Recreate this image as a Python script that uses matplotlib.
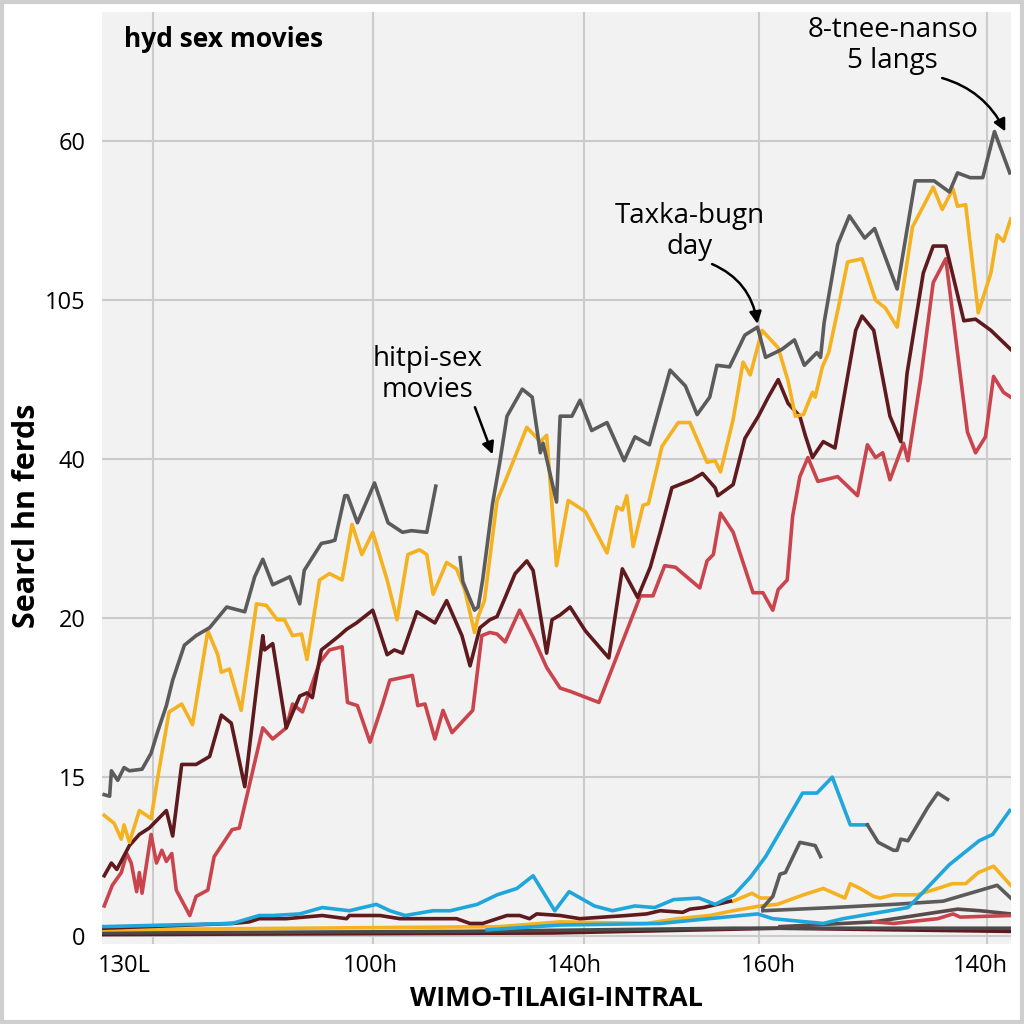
import matplotlib.pyplot as plt
from matplotlib.patches import Rectangle

plt.rcParams['font.family'] = ['Open Sans', 'DejaVu Sans']

# y values in grid units (10 per gridline), x in hours-ish index 0..100
gray_x = [0.2, 0.8, 1.0, 1.7, 2.4, 3.0, 4.4, 5.4, 6.1, 7.1, 7.8, 9.1, 10.4, 11.9, 13.8, 15.8, 16.9, 17.8,
          18.9, 20.8, 21.9, 22.4, 24.3, 25.2, 25.8, 26.9, 27.2, 28.3, 30.2, 31.7, 33.3, 34.3, 36.0, 37.0]
gray_y = [8.9, 8.8, 10.4, 9.8, 10.6, 10.4, 10.5, 11.5, 12.8, 14.5, 16.1, 18.3, 18.9, 19.4, 20.7, 20.4, 22.6, 23.7,
          22.1, 22.6, 20.9, 23.0, 24.7, 24.8, 24.9, 27.7, 27.7, 26.0, 28.5, 26.0, 25.4, 25.5, 25.4, 28.3]

gray2_x = [39.7, 40.0, 41.3, 41.7, 42.2, 43.3, 44.1, 44.9, 46.6, 47.7, 48.6, 48.9, 50.4, 50.8, 52.1, 53.0, 54.3,
           56.0, 57.9, 59.1, 60.7, 63.0, 64.7, 66.0, 67.4, 68.2, 69.6, 71.3, 72.7, 73.6, 75.4, 76.8, 77.9, 79.3,
           79.7, 80.1, 81.6, 82.9, 84.6, 85.7, 88.2, 90.2, 92.3, 94.0, 94.9, 96.3, 97.7, 99.0, 100.7]
gray2_y = [23.8, 22.3, 20.5, 20.7, 22.4, 27.2, 29.8, 32.7, 34.4, 33.9, 30.4, 31.0, 27.3, 32.7, 32.7, 33.7, 31.8,
           32.3, 29.9, 31.4, 30.9, 35.6, 34.6, 32.8, 33.9, 35.9, 35.8, 37.8, 38.3, 36.4, 36.9, 37.5, 35.9, 36.7,
           36.4, 38.6, 43.5, 45.3, 43.9, 44.5, 40.7, 47.5, 47.5, 46.8, 48.0, 47.7, 47.7, 50.6, 48.0]

yellow_x = [0.2, 1.3, 2.1, 2.4, 3.0, 4.1, 5.4, 6.3, 7.4, 8.8, 10.0, 11.7, 12.8, 13.2, 14.1, 15.4, 17.1, 18.2,
            19.4, 20.2, 21.1, 22.1, 22.7, 24.1, 25.2, 26.6, 27.7, 28.8, 30.0, 31.6, 32.7, 33.9, 35.2, 36.0,
            36.7, 38.2, 39.3, 40.2, 41.3, 41.7, 42.4, 43.8, 44.7, 47.1, 48.6, 49.3, 50.4, 51.7, 53.6, 56.0,
            57.1, 57.7, 58.2, 58.9, 60.0, 60.6, 62.1, 63.9, 65.2, 67.1, 68.0, 68.6, 70.0, 71.1, 71.9, 73.2,
            75.0, 76.1, 76.9, 77.8, 78.8, 79.1, 79.9, 80.6, 81.7, 82.7, 84.3, 85.8, 86.9, 88.2, 89.9, 91.1,
            92.2, 93.2, 94.4, 94.9, 95.8, 97.2, 98.6, 99.3, 100.0, 100.8]
yellow_y = [7.6, 7.1, 6.1, 7.0, 5.9, 7.9, 7.4, 10.5, 14.1, 14.6, 13.3, 19.2, 17.7, 16.6, 16.8, 14.2, 20.9, 20.8,
            19.9, 19.9, 18.9, 19.0, 17.4, 22.4, 22.8, 22.4, 25.9, 24.0, 25.4, 22.4, 19.9, 24.0, 24.3, 24.0,
            21.5, 23.5, 23.1, 21.8, 19.1, 20.1, 21.1, 27.4, 28.6, 32.0, 31.1, 31.5, 23.3, 27.4, 26.7, 24.1,
            27.0, 26.8, 27.7, 24.5, 27.1, 27.2, 30.8, 32.3, 32.3, 29.8, 29.9, 29.2, 32.5, 36.1, 35.3, 38.1,
            37.0, 34.9, 32.7, 32.8, 34.2, 33.9, 35.8, 36.7, 39.6, 42.4, 42.6, 40.0, 39.5, 38.3, 44.6, 45.9,
            47.1, 45.7, 47.0, 45.9, 46.0, 39.2, 41.7, 44.1, 43.7, 45.1]

maroon_x = [0.2, 1.0, 1.6, 3.0, 4.1, 5.2, 7.1, 7.8, 8.8, 10.4, 11.9, 13.2, 14.3, 15.8, 17.8, 18.0, 18.9, 20.4,
            21.9, 22.7, 23.3, 24.3, 25.2, 26.3, 27.1, 28.2, 30.0, 31.6, 32.4, 33.3, 34.9, 36.9, 38.2, 39.9,
            40.8, 41.9, 43.0, 43.8, 44.7, 45.8, 47.1, 47.8, 49.3, 49.9, 50.8, 51.9, 53.6, 56.2, 57.7, 59.4,
            60.8, 61.9, 63.2, 65.4, 66.6, 68.0, 68.3, 70.0, 71.3, 72.8, 73.9, 75.0, 76.1, 77.4, 78.0, 78.8,
            80.0, 81.3, 83.6, 84.3, 85.6, 87.4, 88.6, 89.3, 91.1, 92.2, 93.6, 95.6, 96.9, 98.6, 100.8]
maroon_y = [3.8, 4.6, 4.2, 5.7, 6.4, 6.8, 7.9, 6.3, 10.8, 10.8, 11.3, 13.9, 13.4, 9.4, 18.9, 18.0, 18.4, 13.1,
            15.1, 15.3, 15.0, 18.0, 18.4, 18.9, 19.3, 19.7, 20.5, 17.7, 18.0, 17.8, 20.4, 19.7, 21.1, 18.9,
            17.0, 19.4, 19.9, 20.1, 21.3, 22.8, 23.6, 23.0, 17.8, 19.9, 20.2, 20.7, 19.2, 17.5, 23.1, 21.3,
            23.2, 25.4, 28.2, 28.7, 29.1, 28.2, 27.7, 28.4, 31.3, 32.7, 33.9, 35.0, 33.5, 32.7, 31.5, 30.1,
            31.1, 30.7, 38.1, 39.0, 38.1, 32.7, 31.1, 35.4, 41.7, 43.4, 43.4, 38.7, 38.8, 38.1, 36.9]

red_x = [0.2, 1.1, 2.1, 2.7, 3.2, 3.8, 4.1, 4.4, 5.4, 6.0, 6.6, 7.1, 7.7, 8.2, 9.7, 10.4, 11.7, 12.4, 14.4,
         15.2, 17.8, 18.9, 20.4, 21.1, 22.2, 24.1, 25.2, 26.6, 27.2, 28.3, 29.7, 31.1, 31.9, 34.4, 35.0, 35.8,
         36.9, 37.8, 38.8, 41.1, 42.1, 43.0, 43.8, 44.7, 46.3, 47.8, 49.3, 50.8, 51.9, 55.1, 56.2, 59.7, 61.1,
         62.4, 63.6, 66.3, 67.1, 67.8, 68.6, 70.0, 72.2, 73.3, 74.4, 75.0, 76.0, 76.6, 77.4, 78.3, 79.4, 81.6,
         83.8, 84.9, 85.8, 86.6, 87.4, 88.9, 89.4, 90.8, 92.2, 93.6, 96.0, 96.9, 98.0, 98.9, 100.0, 100.8]
red_y = [1.9, 3.2, 4.0, 5.2, 4.6, 2.8, 4.0, 2.7, 6.4, 4.6, 5.4, 4.7, 5.2, 2.9, 1.3, 2.5, 2.9, 5.0, 6.7,
         6.8, 13.1, 12.4, 13.1, 14.6, 14.1, 17.2, 18.0, 18.2, 14.7, 14.5, 12.2, 14.6, 16.1, 16.4, 14.5, 14.6,
         12.4, 14.2, 12.8, 14.2, 18.9, 19.1, 19.0, 18.5, 20.5, 18.8, 16.9, 15.6, 15.4, 14.7, 16.3, 21.4, 21.4,
         23.3, 23.2, 21.9, 23.6, 24.0, 26.6, 25.4, 21.6, 21.6, 20.5, 21.8, 22.4, 26.4, 28.9, 30.1, 28.6, 28.9,
         27.7, 30.9, 30.1, 30.4, 28.7, 31.0, 29.9, 35.0, 41.1, 42.6, 31.7, 30.4, 31.4, 35.2, 34.2, 33.9]

blue_x = [0.0, 14.4, 17.4, 18.9, 21.9, 24.4, 27.4, 28.9, 30.4, 31.9, 33.6, 36.7, 38.6, 41.6, 43.8, 46.0, 47.8,
          50.2, 51.8, 54.6, 56.6, 59.1, 61.3, 63.4, 66.2, 68.0, 70.1, 71.9, 73.6, 77.7, 79.3, 81.0, 83.0, 84.9]
blue_y = [0.6, 0.8, 1.3, 1.3, 1.4, 1.8, 1.6, 1.8, 2.0, 1.6, 1.3, 1.6, 1.6, 2.0, 2.6, 3.0, 3.8,
          1.6, 2.8, 1.9, 1.6, 1.9, 1.8, 2.3, 2.4, 2.0, 2.6, 3.7, 5.0, 9.0, 9.0, 10.0, 7.0, 7.0]

gray3_x = [84.9, 86.1, 87.8, 88.2, 88.6, 89.4, 91.6, 92.7, 93.8]
gray3_y = [7.0, 5.9, 5.4, 5.4, 6.1, 6.0, 8.1, 9.0, 8.6]

blue2_x = [42.7, 50.8, 61.9, 72.7, 74.4, 80.0, 82.2, 89.4, 90.8, 94.0, 97.3, 98.8, 100.7]
blue2_y = [0.4, 0.7, 0.8, 1.4, 1.1, 0.8, 1.1, 1.8, 2.6, 4.5, 6.0, 6.4, 7.9]

maroon_low_x = [0.0, 14.4, 16.3, 17.4, 20.4, 24.4, 27.1, 27.4, 30.8, 33.0, 36.7, 39.3, 40.8, 42.2, 44.9,
                46.3, 47.4, 48.2, 50.8, 53.0, 58.2, 60.4, 61.9, 64.4, 65.2, 66.7, 68.2, 69.7]
maroon_low_y = [0.5, 0.8, 0.9, 1.1, 1.1, 1.3, 1.1, 1.3, 1.3, 1.1, 1.1, 1.1, 0.8, 0.8, 1.3,
                1.3, 1.1, 1.4, 1.3, 1.1, 1.3, 1.4, 1.6, 1.5, 1.7, 1.8, 2.0, 2.2]

yellow_low_x = [0.0, 21.9, 44.1, 50.8, 60.4, 63.8, 67.4, 70.0, 73.0, 74.9, 77.8, 80.0, 82.4, 83.0, 84.1,
                85.6, 86.3, 87.8, 90.4, 92.7, 94.3, 95.8, 97.2, 98.9, 100.8]
yellow_low_y = [0.4, 0.5, 0.6, 0.9, 0.8, 1.1, 1.3, 1.6, 1.9, 2.0, 2.6, 3.0, 2.4, 3.3, 3.0,
                2.5, 2.4, 2.6, 2.6, 3.0, 3.3, 3.3, 4.0, 4.4, 3.2]
yellow_bit_x = [70.0, 72.1, 73.0, 74.1]
yellow_bit_y = [2.2, 2.7, 2.4, 2.4]

gray_rise_x = [73.3, 74.4, 75.2, 75.8, 77.4, 79.1, 79.7]
gray_rise_y = [1.8, 2.5, 3.9, 4.0, 5.9, 5.7, 5.0]

gray_low_x = [73.3, 81.1, 87.8, 93.3, 99.3, 100.8]
gray_low_y = [1.6, 1.8, 2.0, 2.2, 3.2, 2.4]

gray_low2_x = [75.2, 85.6, 94.9, 97.4, 100.8]
gray_low2_y = [0.6, 0.9, 1.7, 1.6, 1.4]

red_low_x = [85.6, 87.8, 92.7, 94.4, 95.2, 100.8]
red_low_y = [0.9, 0.8, 1.1, 1.4, 1.2, 1.3]

bottom_gray_x = [0.0, 40.0, 70.0, 90.0, 100.8]
bottom_gray_y = [0.2, 0.3, 0.5, 0.5, 0.5]
bottom_maroon_x = [0.0, 50.0, 75.0, 100.8]
bottom_maroon_y = [0.1, 0.2, 0.5, 0.3]

ytick_pos = [0, 10, 20, 30, 40, 50]
ytick_lab = ['0', '15', '20', '40', '105', '60']
xgrid_pos = [5.6, 30.0, 53.4, 72.9, 98.2]
xtick_pos = [2.4, 29.7, 52.4, 73.9, 97.4]
xtick_lab = ['130L', '100h', '140h', '160h', '140h']

GRAY = '#5b5b5b'
YEL = '#f4b120'
MAR = '#5e1a1d'
RED = '#c9444c'
BLUE = '#1fa6db'

fig = plt.figure(figsize=(10.24, 10.24), dpi=100)
fig.patches.append(Rectangle((0.002, 0.002), 0.996, 0.996, transform=fig.transFigure,
                             fill=False, edgecolor='#cfcfcf', linewidth=3))
ax = fig.add_axes([0.1, 0.078, 0.887, 0.91])
ax.set_facecolor('#f2f2f3')
for s in ax.spines.values():
    s.set_visible(False)

ax.set_xlim(0, 100.8)
ax.set_ylim(-0.5, 58.1)

for y in ytick_pos:
    ax.axhline(y, color='#cbcbcb', lw=1.5, zorder=1)
for x in xgrid_pos:
    ax.axvline(x, color='#cbcbcb', lw=1.5, zorder=1)

lw = 2.6
ax.plot(bottom_maroon_x, bottom_maroon_y, color=MAR, lw=lw, zorder=2)
ax.plot(bottom_gray_x, bottom_gray_y, color='#4a4a4a', lw=lw, zorder=2)
ax.plot(gray_low2_x, gray_low2_y, color='#5a4a4a', lw=lw, zorder=2)
ax.plot(red_low_x, red_low_y, color=RED, lw=lw, zorder=2)
ax.plot(yellow_low_x, yellow_low_y, color=YEL, lw=lw, zorder=2)
ax.plot(yellow_bit_x, yellow_bit_y, color=YEL, lw=lw, zorder=2)
ax.plot(maroon_low_x, maroon_low_y, color=MAR, lw=lw, zorder=2)
ax.plot(gray_low_x, gray_low_y, color=GRAY, lw=lw, zorder=2)
ax.plot(gray_rise_x, gray_rise_y, color=GRAY, lw=lw, zorder=2)
ax.plot(blue2_x, blue2_y, color=BLUE, lw=lw, zorder=3)
ax.plot(blue_x, blue_y, color=BLUE, lw=lw, zorder=3)
ax.plot(gray3_x, gray3_y, color=GRAY, lw=lw, zorder=3)

ax.plot(red_x, red_y, color=RED, lw=lw, zorder=3)
ax.plot(maroon_x, maroon_y, color=MAR, lw=lw, zorder=4)
ax.plot(yellow_x, yellow_y, color=YEL, lw=lw, zorder=5)
ax.plot(gray_x, gray_y, color=GRAY, lw=lw, zorder=6)
ax.plot(gray2_x, gray2_y, color=GRAY, lw=lw, zorder=6)

ax.set_yticks(ytick_pos)
ax.set_yticklabels(ytick_lab, fontsize=17)
ax.set_xticks(xtick_pos)
ax.set_xticklabels(xtick_lab, fontsize=17)
ax.tick_params(length=0)
ax.tick_params(axis='y', pad=12)
ax.tick_params(axis='x', pad=7)

ax.set_ylabel('Searcl hn ferds', fontsize=22, fontweight='bold')
ax.yaxis.set_label_coords(-0.066, 0.46)
ax.set_xlabel('WIMO-TILAIGI-INTRAL', fontsize=19.5, fontweight='bold', labelpad=6)

ax.text(0.024, 0.971, 'hyd sex movies', transform=ax.transAxes, fontsize=19,
        fontweight='bold', ha='left', va='center')

arr = dict(arrowstyle='-|>', color='black', lw=1.8, mutation_scale=18, shrinkA=0, shrinkB=0)
ax.annotate('hitpi-sex\nmovies', xy=(43.3, 30.3), xytext=(36.1, 35.3), fontsize=20,
            ha='center', va='center', linespacing=1.15,
            arrowprops=dict(arr, relpos=(0.92, 0.0)))
ax.annotate('Taxka-bugn\nday', xy=(72.7, 38.5), xytext=(65.2, 44.3), fontsize=20,
            ha='center', va='center', linespacing=1.15,
            arrowprops=dict(arr, relpos=(0.6, 0.0), connectionstyle='arc3,rad=-0.3'))
ax.annotate('8-tnee-nanso\n5 langs', xy=(100.2, 50.6), xytext=(87.7, 56.0), fontsize=20,
            ha='center', va='center', linespacing=1.15,
            arrowprops=dict(arr, relpos=(0.72, 0.0), connectionstyle='arc3,rad=-0.25'))

fig.savefig('out.png', dpi=100, facecolor='white')
